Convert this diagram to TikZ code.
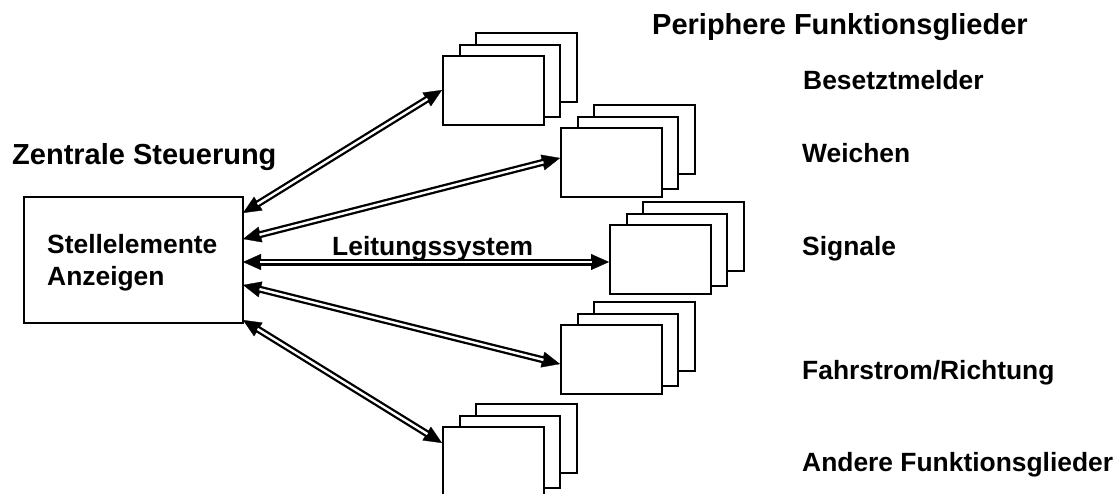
\documentclass[tikz,border=0pt]{standalone}
\usepackage{fontspec}
\setmainfont{Liberation Sans}
\usetikzlibrary{arrows.meta,calc}
\newcommand\dblarrow[2]{%
  \draw[line width=0.3pt, {Triangle[length=18pt,width=16pt]}-{Triangle[length=18pt,width=16pt]}] (#1) -- (#2);
  \draw[line width=7pt, shorten <=17pt, shorten >=17pt] (#1) -- (#2);
  \draw[white, line width=2.4pt, shorten <=17pt, shorten >=17pt] (#1) -- (#2);
}
\newcommand\cardstack[2]{% name, top-left of front card
  \node[card3] (#1c) at ($(#2)+(33,-23)$) {};
  \node[card2] (#1b) at ($(#2)+(17,-11)$) {};
  \node[card1] (#1a) at (#2) {};
}
\begin{document}
\begin{tikzpicture}[x=1pt,y=-1pt,
  card1/.style={draw, line width=1.8pt, fill=white, minimum width=101pt, minimum height=69pt, anchor=north west, inner sep=0pt},
  card2/.style={card1, minimum width=100pt, minimum height=72pt},
  card3/.style={card1, minimum width=101pt, minimum height=69pt},
  lbl/.style={anchor=base west, inner sep=0pt, font=\bfseries\fontsize{26.4}{30}\selectfont},
  ttl/.style={anchor=base west, inner sep=0pt, font=\bfseries\fontsize{29}{33}\selectfont}]
\useasboundingbox (0,0) rectangle (1118,493);
\fill[white] (0,0) rectangle (1118,493);

% titles
\node[ttl] (tz) at (12,164) {Zentrale Steuerung};
\node[ttl] (tp) at (652,34) {Periphere Funktionsglieder};

% central box
\node[draw, line width=1.8pt, minimum width=219pt, minimum height=126pt, anchor=north west, inner sep=0pt] (zs) at (23,196) {};
\node[lbl] (zs1) at (47,253) {Stellelemente};
\node[lbl] (zs2) at (47,285) {Anzeigen};

% card stacks
\coordinate (p1) at (442,55);
\coordinate (p2) at (560,127);
\coordinate (p3) at (609,224);
\coordinate (p4) at (560,324);
\coordinate (p5) at (442,426);
\cardstack{k1}{p1}
\cardstack{k2}{p2}
\cardstack{k3}{p3}
\cardstack{k4}{p4}
\cardstack{k5}{p5}

% arrow end points
\coordinate (z1) at (243,213);
\coordinate (z2) at (243,239);
\coordinate (z3) at (243,262);
\coordinate (z4) at (243,285);
\coordinate (z5) at (243,320);
\coordinate (t1) at (442,90);
\coordinate (t2) at (560,158);
\coordinate (t3) at (609,262);
\coordinate (t4) at (560,364);
\coordinate (t5) at (442,443);
\dblarrow{z1}{t1}
\dblarrow{z2}{t2}
\dblarrow{z3}{t3}
\dblarrow{z4}{t4}
\dblarrow{z5}{t5}

\node[lbl] (ls) at (332,255) {Leitungssystem};

% right labels
\node[lbl] (l1) at (803,89) {Besetztmelder};
\node[lbl] (l2) at (802,162) {Weichen};
\node[lbl] (l3) at (802,255) {Signale};
\node[lbl] (l4) at (802,379) {Fahrstrom/Richtung};
\node[lbl] (l5) at (802,471) {Andere Funktionsglieder};
\end{tikzpicture}
\end{document}
